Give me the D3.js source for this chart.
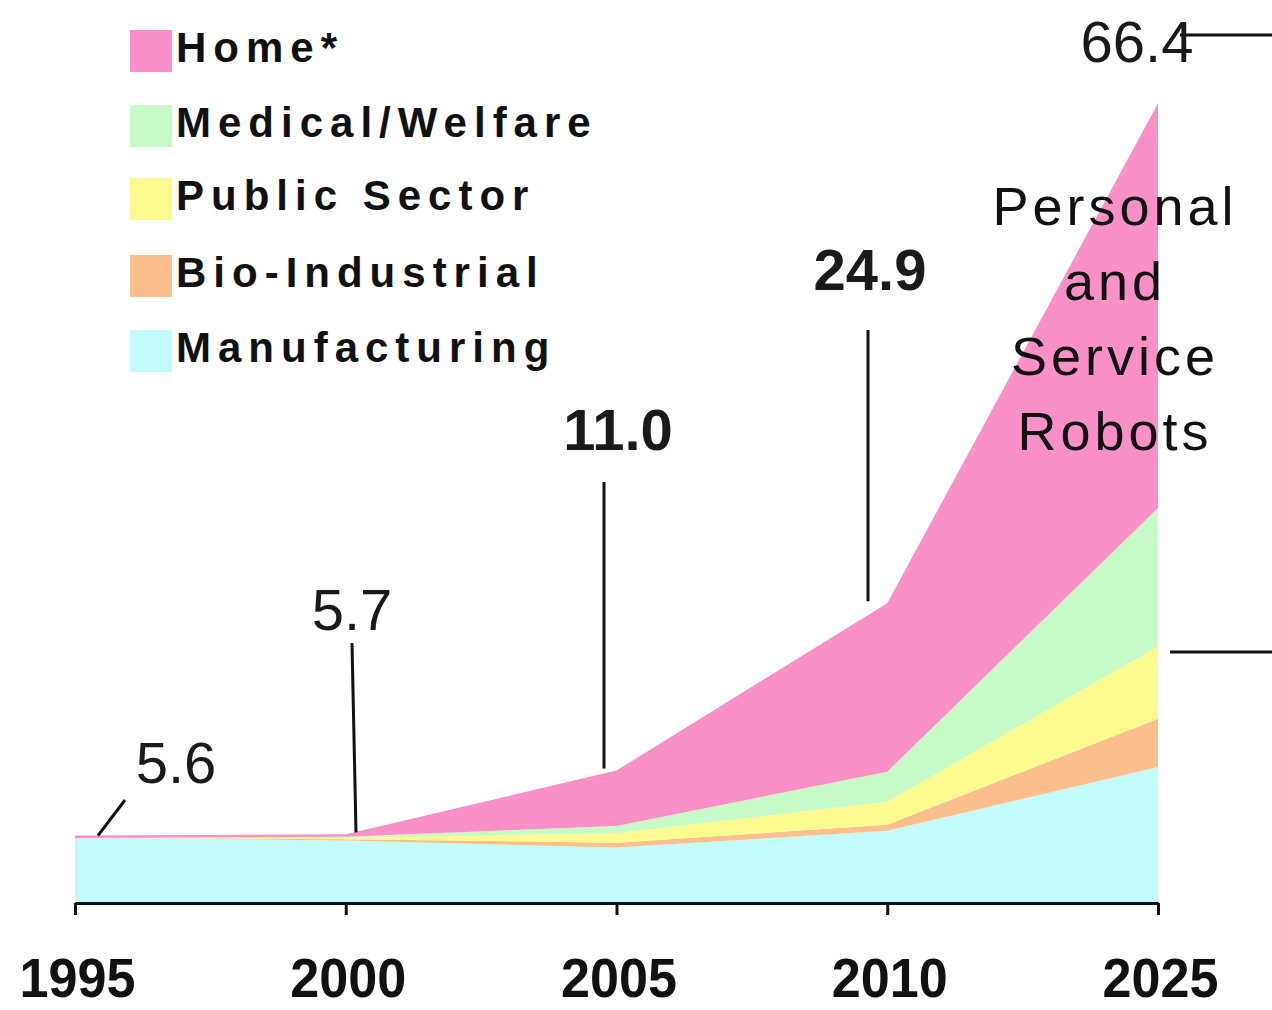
<!DOCTYPE html>
<html>
<head>
<meta charset="utf-8">
<script src="https://cdn.jsdelivr.net/npm/d3@7"></script>
<style>
  html, body { margin: 0; padding: 0; background: #ffffff; }
  svg { display: block; }
</style>
</head>
<body>
<svg id="chart" width="1272" height="1010"></svg>
<script>
// Market size by field (stacked), one entry per year
const years = ["1995", "2000", "2005", "2010", "2025"];
const manufacturing  = [5.4, 5.2, 4.6, 6.0, 11.3];
const bioIndustrial  = [0.0, 0.1, 0.4, 0.5, 4.0];
const publicSector   = [0.0, 0.1, 0.8, 1.9, 6.0];
const medicalWelfare = [0.0, 0.1, 0.6, 2.5, 11.5];
const home           = [0.2, 0.2, 4.6, 14.0, 33.6];

// Legend entries, top to bottom
const legendLabels = ["Home*", "Medical/Welfare", "Public Sector", "Bio-Industrial", "Manufacturing"];
const sideTitle = ["Personal", "and", "Service", "Robots"];

const keys = ["manufacturing", "bioIndustrial", "publicSector", "medicalWelfare", "home"];
const colors = {
  home: "#fa91c6",
  medicalWelfare: "#c6fac6",
  publicSector: "#fafa8e",
  bioIndustrial: "#fbbf8e",
  manufacturing: "#c3fbfb"
};
const legendKeys = ["home", "medicalWelfare", "publicSector", "bioIndustrial", "manufacturing"];

const table = years.map((y, i) => ({
  year: y,
  manufacturing: manufacturing[i],
  bioIndustrial: bioIndustrial[i],
  publicSector: publicSector[i],
  medicalWelfare: medicalWelfare[i],
  home: home[i]
}));

const svg = d3.select("#chart");

const x = d3.scalePoint().domain(years).range([75, 1158]);
const y = d3.scaleLinear().domain([0, 70]).range([903, 60]);

const stack = d3.stack().keys(keys);
const layers = stack(table);

const area = d3.area()
  .x(d => x(d.data.year))
  .y0(d => y(d[0]))
  .y1(d => y(d[1]));

svg.append("g").selectAll("path")
  .data(layers)
  .join("path")
  .attr("d", area)
  .attr("fill", d => colors[d.key]);

// Axis
const axis = d3.axisBottom(x).tickSize(12).tickSizeOuter(0).tickPadding(0);
const gx = svg.append("g").attr("transform", "translate(0,903)").call(axis);
gx.select(".domain").attr("stroke", "#111").attr("stroke-width", 3);
gx.selectAll(".tick line").attr("stroke", "#111").attr("stroke-width", 3);
gx.selectAll(".tick text")
  .attr("y", 94)
  .attr("dy", 0)
  .attr("x", 2)
  .attr("fill", "#111")
  .attr("textLength", 116)
  .attr("lengthAdjust", "spacingAndGlyphs")
  .style("font-family", "'Liberation Sans', Arial, sans-serif")
  .style("font-weight", "bold")
  .style("font-size", "56px");

// Totals with leader lines
const totalsTop = layers[layers.length - 1];
const fmt = d3.format(".1f");
const callouts = [
  { tx: 176,  ty: 783, line: [[98, 0], [125, 800]] },
  { tx: 352,  ty: 630, line: [[352, 643], [356, 0]] },
  { tx: 618,  ty: 450, line: [[604, 482], [604, 0]] },
  { tx: 870,  ty: 290, line: [[868, 330], [868, 0]] },
  { tx: 1137, ty: 62,  line: [[1180, 35], [1272, 35]] }
];

const labelFont = "'Liberation Sans Narrow', 'Arial Narrow', 'Liberation Sans', sans-serif";
callouts.forEach((c, i) => {
  const top = totalsTop[i][1];
  const pts = c.line.map(p => [p[0], p[1] === 0 ? y(top) - 2 : p[1]]);
  if (i === 0) pts[0][1] = y(top);
  svg.append("line")
    .attr("x1", pts[0][0]).attr("y1", pts[0][1])
    .attr("x2", pts[1][0]).attr("y2", pts[1][1])
    .attr("stroke", "#111").attr("stroke-width", 3);
  svg.append("text")
    .attr("x", c.tx).attr("y", c.ty)
    .attr("text-anchor", "middle")
    .attr("fill", "#1a1a1a")
    .style("font-family", labelFont)
    .style("font-size", "58px")
    .style("font-weight", i === 2 || i === 3 ? "bold" : "normal")
    .text(fmt(top));
});

// Bracket line marking the personal/service group
svg.append("line")
  .attr("x1", 1170).attr("y1", 652).attr("x2", 1272).attr("y2", 652)
  .attr("stroke", "#111").attr("stroke-width", 3);

// Side title
svg.append("text")
  .attr("text-anchor", "middle")
  .attr("fill", "#111")
  .style("font-family", "'Liberation Sans', Arial, sans-serif")
  .style("font-size", "54px")
  .style("letter-spacing", "4px")
  .selectAll("tspan")
  .data(sideTitle)
  .join("tspan")
  .attr("x", 1115)
  .attr("y", (d, i) => 225 + i * 75)
  .text(d => d);

// Legend
const legend = svg.append("g");
const legendRows = [62, 137, 210, 287, 362];
legendKeys.forEach((k, i) => {
  const base = legendRows[i];
  legend.append("rect")
    .attr("x", 130).attr("y", base - 32)
    .attr("width", 42).attr("height", 42)
    .attr("fill", colors[k]);
  legend.append("text")
    .attr("x", 176).attr("y", base)
    .attr("fill", "#111")
    .style("font-family", "'Liberation Sans', Arial, sans-serif")
    .style("font-weight", "bold")
    .style("font-size", "42px")
    .style("letter-spacing", "7px")
    .text(legendLabels[i]);
});
</script>
</body>
</html>
